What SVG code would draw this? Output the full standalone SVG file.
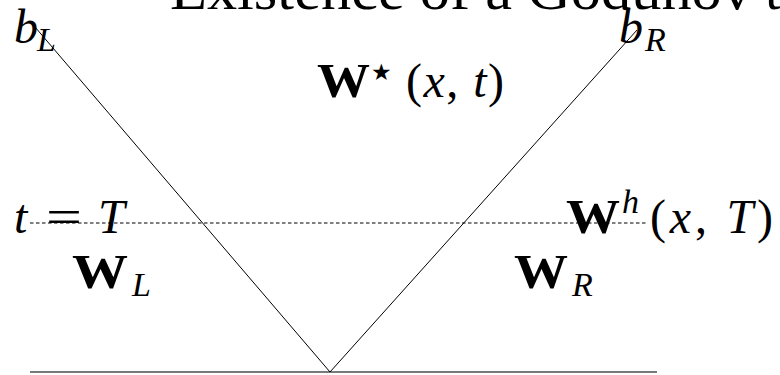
<svg xmlns="http://www.w3.org/2000/svg" width="780" height="375" viewBox="0 0 780 375">
<style>
.m{font-family:"Liberation Serif","DejaVu Serif",serif;font-size:48px;fill:#000}
.i{font-style:italic}
.b{font-weight:bold}
.s{font-size:34px}
.t{font-size:56px}
.ln{stroke:#000;stroke-width:1;fill:none}
.dash{stroke:#000;stroke-width:1;stroke-dasharray:3.5 2.5;fill:none}
.base{stroke:#7a7a7a;stroke-width:2;fill:none}
.star{font-family:"DejaVu Sans",sans-serif;font-size:23px;fill:#000}
</style>
<rect width="780" height="375" fill="#fff"/>
<g id="title">
<text class="m t" x="170" y="9" textLength="582" lengthAdjust="spacingAndGlyphs">Existence of a Godunov</text>
<text class="m t" x="765" y="9">t</text>
</g>
<g id="connectors">
<line class="base" x1="30" y1="372" x2="657" y2="372"/>
<line class="dash" x1="30" y1="223" x2="646" y2="223"/>
<line class="ln" x1="330" y1="372" x2="35" y2="27"/>
<line class="ln" x1="330" y1="372" x2="637" y2="30"/>
</g>
<g id="bL">
<text class="m i" x="14" y="43">b</text>
<text class="m i s" x="37" y="51">L</text>
</g>
<g id="bR">
<text class="m i" x="619" y="43">b</text>
<text class="m i s" x="645" y="51">R</text>
</g>
<g id="Wstar">
<text class="m b" x="317" y="97" textLength="53" lengthAdjust="spacingAndGlyphs">W</text>
<text class="star" x="371" y="80">★</text>
<text class="m" x="406" y="97" textLength="98" lengthAdjust="spacing">(<tspan class="i">x</tspan>, <tspan class="i">t</tspan>)</text>
</g>
<g id="tT">
<text class="m i" x="14" y="233">t</text>
<text class="m" x="46" y="233" textLength="36" lengthAdjust="spacingAndGlyphs">=</text>
<text class="m i" x="98" y="233">T</text>
</g>
<g id="WL">
<text class="m b" x="72" y="288" textLength="56" lengthAdjust="spacingAndGlyphs">W</text>
<text class="m i s" x="132" y="296">L</text>
</g>
<g id="Wh">
<text class="m b" x="566" y="233" textLength="54" lengthAdjust="spacingAndGlyphs">W</text>
<text class="m i s" x="622" y="213">h</text>
<text class="m" x="650" y="233" textLength="123" lengthAdjust="spacing">(<tspan class="i">x</tspan>, <tspan class="i">T</tspan>)</text>
</g>
<g id="WR">
<text class="m b" x="514" y="288" textLength="54" lengthAdjust="spacingAndGlyphs">W</text>
<text class="m i s" x="572" y="296">R</text>
</g>
</svg>
